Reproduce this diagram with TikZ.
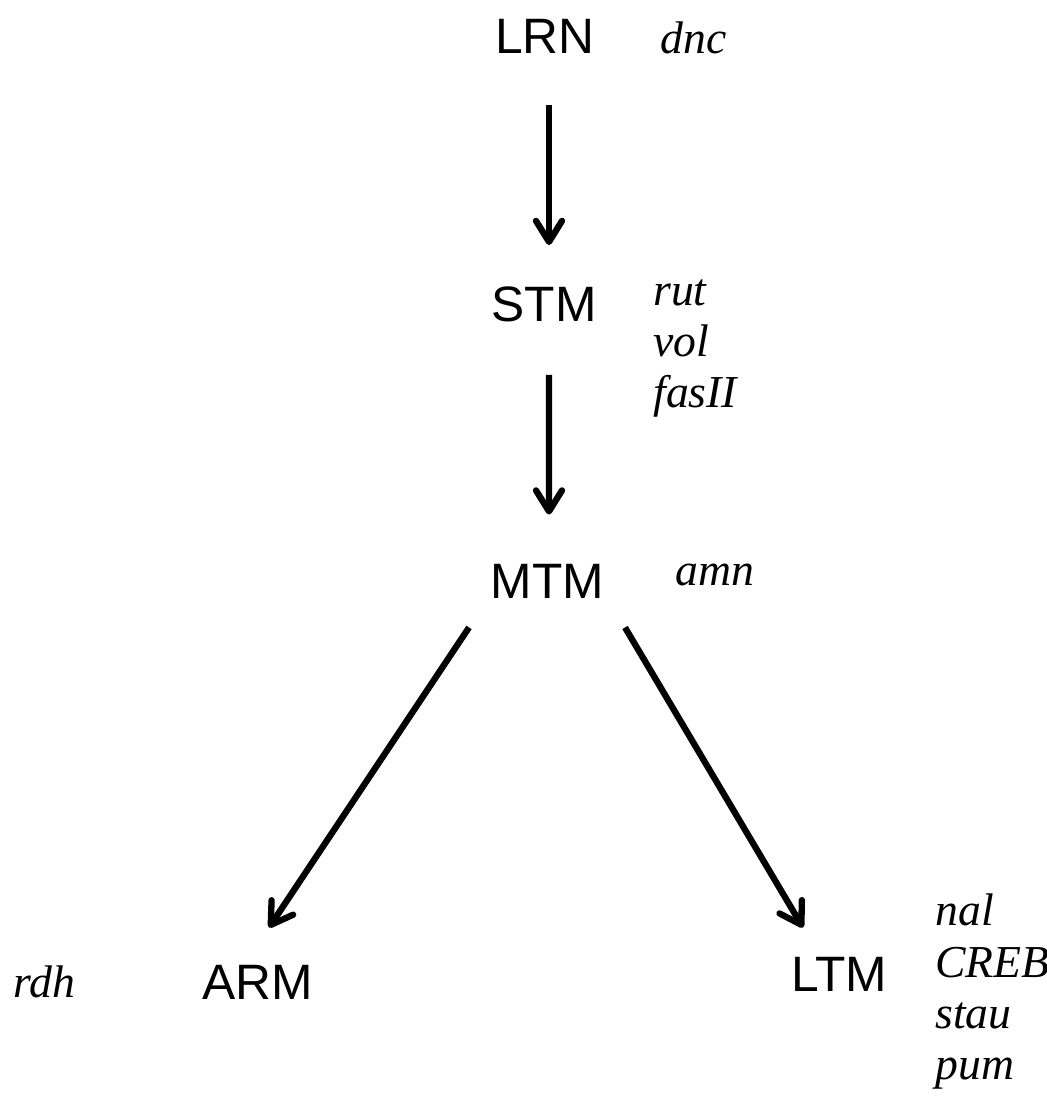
\documentclass[tikz,border=0pt]{standalone}
\usepackage{fontspec}
\setsansfont{Liberation Sans}
\newfontfamily\genefont{Liberation Serif}
\usepackage{tikz}
\usetikzlibrary{arrows.meta,calc}

\tikzset{
    stage/.style={font=\fontsize{28.3}{34}\selectfont\sffamily, inner sep=0pt},
    gene/.style={font=\genefont\itshape\fontsize{26}{30}\selectfont, inner sep=0pt, anchor=base west},
    flow/.style={line width=3.6pt, -{Straight Barb[length=0.42cm, width=0.52cm, line cap=round, line join=round]}}
}

\begin{document}
\begin{tikzpicture}[x=0.02cm, y=-0.02cm]
    \useasboundingbox (0,0) rectangle (1047,1098);

    % Memory phases
    \node[stage] (lrn) at (545,36.5) {LRN};
    \node[stage] (stm) at (544,304) {STM};
    \node[stage] (mtm) at (547.5,581) {MTM};
    \node[stage] (arm) at (257.5,982.5) {ARM};
    \node[stage] (ltm) at (839,974.5) {LTM};

    % Genes
    \node[gene] (dnc) at (660,54) {dnc};

    \node[gene] (rut) at (653,305) {rut};
    \node[gene] (vol) at (653,356) {vol};
    \node[gene] (fasII) at (653,407) {fasII};

    \node[gene] (amn) at (675,585) {amn};

    \node[gene] (rdh) at (13,997) {rdh};

    \node[gene] (nal) at (935,925) {nal};
    \node[gene] (creb) at (935,977) {CREB};
    \node[gene] (stau) at (935,1028) {stau};
    \node[gene] (pum) at (935,1079) {pum};

    % Arrows
    \draw[flow] ($(lrn.south)+(4,51)$) -- ($(stm.north)+(5,-41)$);
    \draw[flow] ($(stm.south)+(5,53)$) -- ($(mtm.north)+(1.5,-49)$);
    \draw[flow] ($(mtm.south)+(-78.5,29)$) -- ($(arm.north)+(11.5,-37.5)$);
    \draw[flow] ($(mtm.south)+(77.5,29)$) -- ($(ltm.north)+(-36,-29.5)$);
\end{tikzpicture}
\end{document}
